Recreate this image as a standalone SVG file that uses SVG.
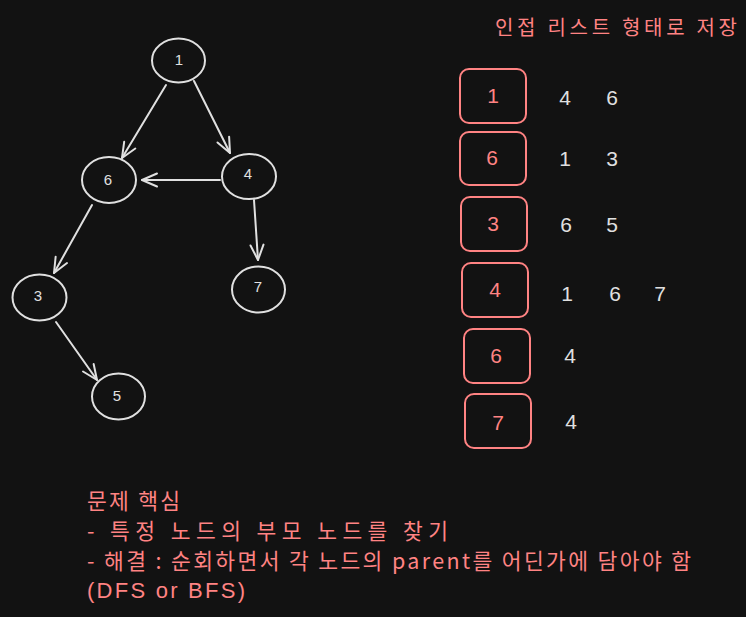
<svg xmlns="http://www.w3.org/2000/svg" width="746" height="617" viewBox="0 0 746 617">
<defs>
<marker id="ah" markerUnits="userSpaceOnUse" markerWidth="24" markerHeight="24" viewBox="-20 -12 24 24" refX="0" refY="0" orient="auto">
<path d="M -15 -6.5 L 0 0 L -15 6.5" fill="none" stroke="#e0e0e0" stroke-width="2" stroke-linecap="round" stroke-linejoin="round"/>
</marker>
</defs>
<style>
.n{fill:none;stroke:#e0e0e0;stroke-width:2}
.b{fill:none;stroke:#ff8383;stroke-width:2}
.nl{font-family:"Liberation Sans","Noto Sans",sans-serif;font-size:15px;fill:#e0e0e0;text-anchor:middle}
.bl{font-family:"Liberation Sans","Noto Sans",sans-serif;font-size:21px;fill:#ff8383;text-anchor:middle}
.v{font-family:"Liberation Sans","Noto Sans",sans-serif;font-size:21px;fill:#e0e0e0;text-anchor:middle}
.k{font-family:"Noto Sans CJK KR","Liberation Sans",sans-serif;font-size:20px;fill:#ff8383}
.m{font-family:"Noto Sans CJK KR","Liberation Sans",sans-serif;font-size:21.5px;fill:#ff8383}
.l{font-family:"Liberation Sans","Noto Sans",sans-serif;font-size:22px;fill:#ff8383}
.e{fill:none;stroke:#e0e0e0;stroke-width:2;stroke-linecap:round;marker-end:url(#ah)}
</style>
<rect width="746" height="617" fill="#121212"/>
<g id="edges">
<line class="e" x1="166" y1="85" x2="122" y2="158"/>
<line class="e" x1="194" y1="81" x2="230" y2="153"/>
<line class="e" x1="220" y1="180" x2="142" y2="180"/>
<line class="e" x1="254" y1="200" x2="258" y2="260"/>
<line class="e" x1="92" y1="205" x2="54" y2="273"/>
<line class="e" x1="56" y1="322" x2="97" y2="380"/>
</g>
<g id="node1"><ellipse class="n" cx="178.5" cy="60.5" rx="26.5" ry="22"/><text class="nl" x="179" y="65">1</text></g>
<g id="node6"><ellipse class="n" cx="109" cy="180" rx="27" ry="23"/><text class="nl" x="108" y="185">6</text></g>
<g id="node4"><ellipse class="n" cx="249" cy="176.5" rx="27" ry="22.5"/><text class="nl" x="248" y="179">4</text></g>
<g id="node3"><ellipse class="n" cx="39.5" cy="297.5" rx="27" ry="23"/><text class="nl" x="38" y="301">3</text></g>
<g id="node7"><ellipse class="n" cx="258.5" cy="289.5" rx="26.5" ry="23"/><text class="nl" x="258" y="292">7</text></g>
<g id="node5"><ellipse class="n" cx="118.5" cy="396.5" rx="26.5" ry="23"/><text class="nl" x="117" y="401">5</text></g>
<g id="title"><text class="k" x="495" y="35" textLength="242" lengthAdjust="spacing">인접 리스트 형태로 저장</text></g>
<g id="row1"><rect class="b" x="460" y="69" width="66" height="54" rx="9"/><text class="bl" x="493" y="103">1</text><text class="v" x="565" y="105">4</text><text class="v" x="612" y="105">6</text></g>
<g id="row2"><rect class="b" x="460" y="132" width="66" height="53" rx="9"/><text class="bl" x="492" y="165">6</text><text class="v" x="565" y="166">1</text><text class="v" x="612" y="166">3</text></g>
<g id="row3"><rect class="b" x="461" y="197" width="66" height="54" rx="9"/><text class="bl" x="493" y="231">3</text><text class="v" x="566" y="232">6</text><text class="v" x="612" y="232">5</text></g>
<g id="row4"><rect class="b" x="462" y="263" width="66" height="54" rx="9"/><text class="bl" x="495" y="297">4</text><text class="v" x="567" y="301">1</text><text class="v" x="615" y="301">6</text><text class="v" x="660" y="301">7</text></g>
<g id="row5"><rect class="b" x="464" y="329" width="66" height="54" rx="9"/><text class="bl" x="496" y="363">6</text><text class="v" x="570" y="363">4</text></g>
<g id="row6"><rect class="b" x="465" y="394" width="66" height="54" rx="9"/><text class="bl" x="498" y="430">7</text><text class="v" x="571" y="429">4</text></g>
<g id="note">
<text class="m" x="87" y="509" textLength="93" lengthAdjust="spacing">문제 핵심</text>
<text class="m" x="87" y="539" textLength="361" lengthAdjust="spacing">- 특정 노드의 부모 노드를 찾기</text>
<text class="m" x="87" y="569" textLength="604" lengthAdjust="spacing">- 해결 : 순회하면서 각 노드의 parent를 어딘가에 담아야 함</text>
<text class="l" x="87" y="598" textLength="158" lengthAdjust="spacing">(DFS or BFS)</text>
</g>
</svg>
